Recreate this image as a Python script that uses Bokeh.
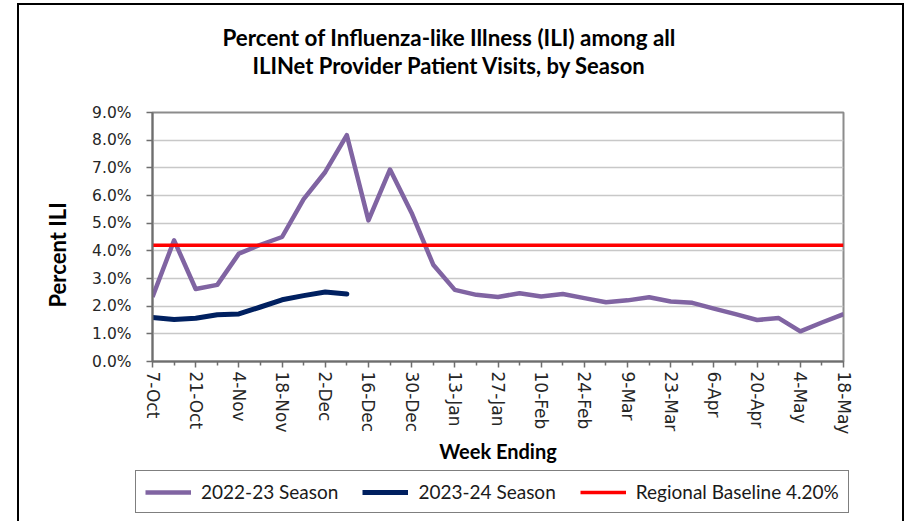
import math
from bokeh.plotting import figure
from bokeh.layouts import column
from bokeh.models import (Range1d, FixedTicker, PrintfTickFormatter, Title,
                          Legend, LegendItem)
from bokeh.embed import file_html
from bokeh.resources import INLINE

# ---------------- data ----------------
week_labels = ["7-Oct", "14-Oct", "21-Oct", "28-Oct", "4-Nov", "11-Nov", "18-Nov",
               "25-Nov", "2-Dec", "9-Dec", "16-Dec", "23-Dec", "30-Dec", "6-Jan",
               "13-Jan", "20-Jan", "27-Jan", "3-Feb", "10-Feb", "17-Feb", "24-Feb",
               "2-Mar", "9-Mar", "16-Mar", "23-Mar", "30-Mar", "6-Apr", "13-Apr",
               "20-Apr", "27-Apr", "4-May", "11-May", "18-May"]
season_2022_23 = [2.33, 4.38, 2.62, 2.77, 3.90, 4.22, 4.50, 5.87, 6.85, 8.18, 5.10,
                  6.94, 5.37, 3.50, 2.59, 2.41, 2.33, 2.47, 2.35, 2.44, 2.29, 2.14,
                  2.21, 2.32, 2.17, 2.12, 1.91, 1.71, 1.50, 1.57, 1.09, 1.41, 1.71]
season_2023_24 = [1.59, 1.52, 1.56, 1.69, 1.72, 1.97, 2.23, 2.38, 2.51, 2.44]
baseline = 4.20
y_ticks = [0, 1, 2, 3, 4, 5, 6, 7, 8, 9]
series_names = ["2022-23 Season", "2023-24 Season", "Regional Baseline 4.20%"]

x_all = list(range(len(week_labels)))
x_cur = list(range(len(season_2023_24)))

FONT_T = "Lato"
FONT_N = "DejaVu Sans"
C1, C2, C3 = "#8064A2", "#002060", "#FF0000"
W1, W2, W3 = 4.5, 5, 3.5

p = figure(width=887, height=466, output_backend="svg", toolbar_location=None,
           x_range=Range1d(0, len(week_labels) - 1), y_range=Range1d(0, 9),
           min_border_left=135, min_border_right=61, min_border_top=109,
           min_border_bottom=108)
p.background_fill_color = "white"
p.border_fill_color = None
p.outline_line_color = "#8c8c8c"
p.outline_line_width = 2

# titles: p.title is the upper line, the added Title sits next to the plot
p.title.text = "Percent of Influenza-like Illness (ILI) among all"
p.title.align = "left"
p.title.offset = 70
p.title.standoff = 0
p.title.text_font = FONT_T
p.title.text_font_style = "bold"
p.title.text_font_size = "22.4px"
p.title.text_color = "#000000"
p.add_layout(Title(text="ILINet Provider Patient Visits, by Season\n",
                   align="left", offset=100, standoff=0, text_font=FONT_T,
                   text_font_style="bold", text_font_size="22px",
                   text_line_height=1.24, text_color="#000000"), "above")

# y axis title as a side title (lets it sit lower than the frame centre)
p.add_layout(Title(text="Percent ILI", align="left", offset=54,
                   vertical_align="middle", standoff=36, text_font=FONT_T,
                   text_font_style="bold", text_font_size="22px",
                   text_color="#000000"), "left")

# grid
p.xgrid.visible = False
p.ygrid.ticker = FixedTicker(ticks=y_ticks)
p.ygrid.grid_line_color = "#c8c8c8"
p.ygrid.grid_line_width = 1.5

# y axis
p.yaxis.ticker = FixedTicker(ticks=y_ticks)
p.yaxis.formatter = PrintfTickFormatter(format="%.1f%%")
p.yaxis.axis_line_color = "#6e6e6e"
p.yaxis.axis_line_width = 2
p.yaxis.major_tick_line_color = "#6e6e6e"
p.yaxis.major_tick_line_width = 1.5
p.yaxis.major_tick_out = 6
p.yaxis.major_tick_in = 0
p.yaxis.minor_tick_line_color = None
p.yaxis.major_label_standoff = 15
p.yaxis.major_label_text_font = FONT_N
p.yaxis.major_label_text_font_size = "15.5px"
p.yaxis.major_label_text_color = "#262626"

# x axis
major_x = [i for i in x_all if i % 2 == 0]
minor_x = [i for i in x_all if i % 2 == 1]
p.xaxis.ticker = FixedTicker(ticks=major_x, minor_ticks=minor_x)
p.xaxis.major_label_overrides = {i: week_labels[i] for i in major_x}
p.xaxis.major_label_orientation = "vertical"
p.xaxis.axis_line_color = "#6e6e6e"
p.xaxis.axis_line_width = 2
p.xaxis.major_tick_line_color = "#6e6e6e"
p.xaxis.major_tick_line_width = 1.5
p.xaxis.major_tick_out = 6
p.xaxis.major_tick_in = 0
p.xaxis.minor_tick_line_color = "#6e6e6e"
p.xaxis.minor_tick_line_width = 1.5
p.xaxis.minor_tick_out = 4
p.xaxis.minor_tick_in = 0
p.xaxis.major_label_standoff = 4
p.xaxis.major_label_text_font = FONT_N
p.xaxis.major_label_text_font_size = "17px"
p.xaxis.major_label_text_color = "#262626"
p.xaxis.axis_label = "Week Ending"
p.xaxis.axis_label_standoff = 2
p.xaxis.axis_label_text_font = FONT_T
p.xaxis.axis_label_text_font_style = "bold"
p.xaxis.axis_label_text_font_size = "20px"
p.xaxis.axis_label_text_color = "#000000"

# lines
p.line(x_all, season_2022_23, line_color=C1, line_width=W1, line_join="round")
p.line(x_cur, season_2023_24, line_color=C2, line_width=W2, line_join="round",
       line_cap="round")
p.line([x_all[0], x_all[-1]], [baseline, baseline], line_color=C3, line_width=W3)

# legend strip (separate small figure below the chart; its own series are
# drawn outside its visible range so that only the legend shows)
pl = figure(width=887, height=52, output_backend="svg", toolbar_location=None,
            x_range=Range1d(0, len(week_labels) - 1), y_range=Range1d(-20, -19),
            min_border_left=0, min_border_right=0, min_border_top=0,
            min_border_bottom=0)
if "frame_align" in pl.properties():
    pl.frame_align = False
    p.frame_align = False
pl.axis.visible = False
pl.grid.visible = False
pl.outline_line_color = None
pl.background_fill_color = None
pl.border_fill_color = None
k1 = pl.line(x_all, season_2022_23, line_color=C1, line_width=W1)
k2 = pl.line(x_cur, season_2023_24, line_color=C2, line_width=W2)
k3 = pl.line([x_all[0], x_all[-1]], [baseline, baseline], line_color=C3,
             line_width=W3)
legend = Legend(items=[LegendItem(label=series_names[0], renderers=[k1]),
                       LegendItem(label=series_names[1], renderers=[k2]),
                       LegendItem(label=series_names[2], renderers=[k3])],
                orientation="horizontal", location=(118, 8), margin=0,
                glyph_width=46, glyph_height=20, label_height=20,
                label_standoff=10, spacing=24, padding=9,
                label_text_font=FONT_T, label_text_font_size="19px",
                label_text_color="#1a1a1a",
                border_line_color="#000000", border_line_width=1.5,
                background_fill_color="white", background_fill_alpha=1.0)
pl.add_layout(legend, "center")

layout = column(p, pl, spacing=0)
layout.margin = (3, 0, 0, 17)
layout.styles = {"box-shadow": "inset 2px 0 0 #000000, inset -2px 0 0 #000000, inset 0 2px 0 #000000"}

open("out.html", "w").write(file_html(layout, INLINE))
